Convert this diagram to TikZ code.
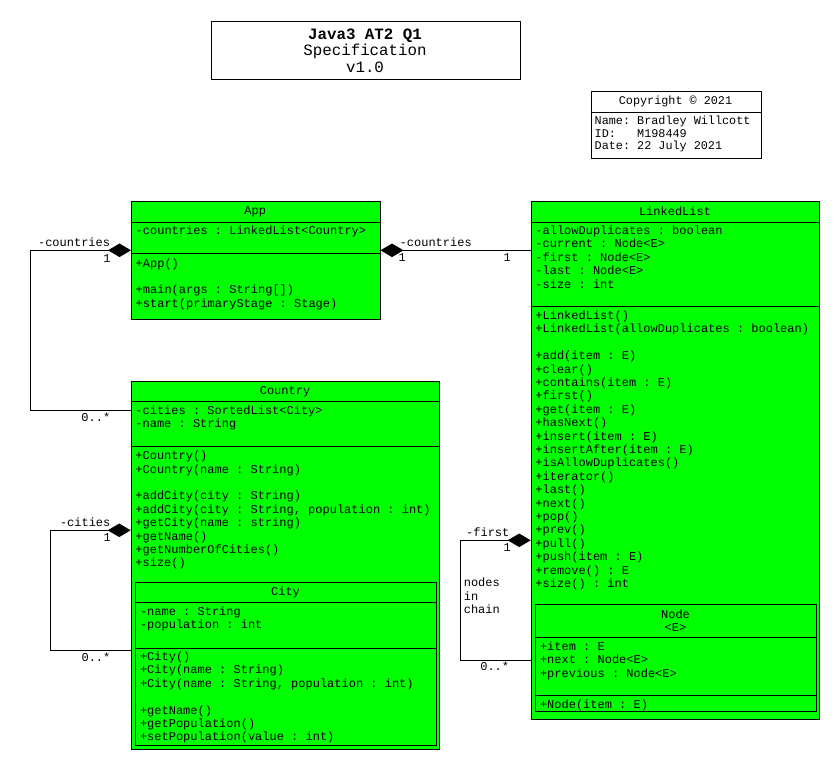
\documentclass[tikz,border=0pt]{standalone}
\usepackage{fontspec}
\setmonofont{Liberation Mono}
\newfontfamily\umlmono{Liberation Mono}
\newcommand\clsfont{\umlmono\fontsize{12}{13.4}\selectfont\frenchspacing}
\newcommand\cpyfont{\umlmono\fontsize{11.8}{12.9}\selectfont\frenchspacing}
\newcommand\ttlfont{\umlmono\fontsize{15.8}{16.5}\selectfont\frenchspacing}
\usetikzlibrary{arrows.meta}
\definecolor{umlgreen}{HTML}{00FF00}
\tikzset{
  classbox/.style={draw=black, line width=1pt, fill=umlgreen, inner sep=0pt, anchor=north west},
  plainbox/.style={draw=black, line width=1pt, fill=white, inner sep=0pt, anchor=north west},
  divline/.style={line width=1pt},
  comptxt/.style={anchor=north west, inner sep=0pt, font=\clsfont, align=left},
  headtxt/.style={inner sep=0pt, font=\clsfont, align=center},
  endlbl/.style={inner sep=0pt, font=\clsfont},
  conn/.style={line width=1pt},
  composite/.style={conn, {Diamond[length=23pt,width=13.5pt]}-},
}
\begin{document}
\begin{tikzpicture}[x=1pt,y=-1pt]
\useasboundingbox (0,0) rectangle (840,770);

% ---------- title ----------
\node[plainbox, minimum width=309pt, minimum height=58.3pt] (title) at (210.5,20.7) {};
\node[inner sep=0pt, font=\ttlfont, align=center] (titletxt) at (365,50.3)
  {\textbf{Java3 AT2 Q1}\\Specification\\v1.0};

% ---------- copyright ----------
\node[plainbox, minimum width=170pt, minimum height=67.6pt] (copy) at (590.5,90.7) {};
\draw[divline] (590.5,112.7) -- (760.5,112.7);
\node[inner sep=0pt, font=\cpyfont] (copyhead) at (675.5,101.7) {Copyright © 2021};
\node[anchor=north west, inner sep=0pt, font=\cpyfont, align=left] (copybody) at (594.5,114.9)
  {\strut Name: Bradley Willcott\\ID:~~~M198449\\Date: 22 July 2021};

% ---------- App ----------
\node[classbox, minimum width=248.5pt, minimum height=118pt] (app) at (131,201) {};
\draw[divline] (131,222) -- (379.5,222);
\draw[divline] (131,253.3) -- (379.5,253.3);
\node[headtxt] (apphead) at (255.2,211.5) {App};
\node[comptxt] (appattr) at (135.5,224.9) {\strut -countries : LinkedList<Country>};
\node[comptxt] (appmeth) at (135.5,257.6)
  {\strut +App()\\\strut\\+main(args : String[])\\+start(primaryStage : Stage)};

% ---------- LinkedList ----------
\node[classbox, minimum width=288.6pt, minimum height=517.5pt] (ll) at (530.7,201) {};
\draw[divline] (530.7,222) -- (819.3,222);
\draw[divline] (530.7,306.3) -- (819.3,306.3);
\node[headtxt] (llhead) at (675,211.5) {LinkedList};
\node[comptxt] (llattr) at (535.2,224.9)
  {\strut -allowDuplicates : boolean\\-current : Node<E>\\-first : Node<E>\\-last : Node<E>\\-size : int};
\node[comptxt] (llmeth) at (535.2,309.9)
  {\strut +LinkedList()\\+LinkedList(allowDuplicates : boolean)\\\strut\\+add(item : E)\\+clear()\\+contains(item : E)\\+first()\\+get(item : E)\\+hasNext()\\+insert(item : E)\\+insertAfter(item : E)\\+isAllowDuplicates()\\+iterator()\\+last()\\+next()\\+pop()\\+prev()\\+pull()\\+push(item : E)\\+remove() : E\\+size() : int};

% ---------- Node (inner) ----------
\node[classbox, minimum width=280.4pt, minimum height=107.6pt] (nodecls) at (535.3,603.7) {};
\draw[divline] (535.3,637.3) -- (815.7,637.3);
\draw[divline] (535.3,695.3) -- (815.7,695.3);
\node[headtxt] (nodehead) at (675.5,620.8) {Node\\<E>};
\node[comptxt] (nodeattr) at (539.8,640.9)
  {\strut +item : E\\+next : Node<E>\\+previous : Node<E>};
\node[comptxt] (nodemeth) at (539.8,698.9) {\strut +Node(item : E)};

% ---------- Country ----------
\node[classbox, minimum width=308.6pt, minimum height=368.3pt] (country) at (130.7,380.7) {};
\draw[divline] (130.7,401.7) -- (439.3,401.7);
\draw[divline] (130.7,446) -- (439.3,446);
\node[headtxt] (countryhead) at (285,391.5) {Country};
\node[comptxt] (countryattr) at (135.2,404.9)
  {\strut -cities : SortedList<City>\\-name : String};
\node[comptxt] (countrymeth) at (135.2,450.2)
  {\strut +Country()\\+Country(name : String)\\\strut\\+addCity(city : String)\\+addCity(city : String, population : int)\\+getCity(name : string)\\+getName()\\+getNumberOfCities()\\+size()};

% ---------- City (inner) ----------
\node[classbox, minimum width=300.4pt, minimum height=162.2pt] (city) at (135.3,582.3) {};
\draw[divline] (135.3,602.3) -- (435.7,602.3);
\draw[divline] (135.3,648.7) -- (435.7,648.7);
\node[headtxt] (cityhead) at (285.5,592.5) {City};
\node[comptxt] (cityattr) at (139.8,605.9)
  {\strut -name : String\\-population : int};
\node[comptxt] (citymeth) at (139.8,650.9)
  {\strut +City()\\+City(name : String)\\+City(name : String, population : int)\\\strut\\+getName()\\+getPopulation()\\+setPopulation(value : int)};

% ---------- connectors ----------
% App -> Country (left loop)
\draw[composite] ([yshift=-49.3pt]app.north west) -- ++(-100.7,0) |- ([yshift=-29.6pt]country.north west);
\node[endlbl, anchor=base east] (l1a) at (110.3,246.2) {-countries};
\node[endlbl, anchor=base east] (l1b) at (110.8,262) {1};
\node[endlbl, anchor=base east] (l1c) at (110.5,421.6) {0..*};

% App -> LinkedList
\draw[composite] ([yshift=-49.3pt]app.north east) -- ([yshift=-49.3pt]ll.north west);
\node[endlbl, anchor=base west] (l2a) at (399.5,246.2) {-countries};
\node[endlbl, anchor=base west] (l2b) at (398.3,261.8) {1};
\node[endlbl, anchor=base east] (l2c) at (511,261.8) {1};

% Country -> City (left loop)
\draw[composite] ([yshift=-149.6pt]country.north west) -- ++(-80.4,0) |- ([yshift=-269.6pt]country.north west);
\node[endlbl, anchor=base east] (l3a) at (110.6,526.2) {-cities};
\node[endlbl, anchor=base east] (l3b) at (111,541.6) {1};
\node[endlbl, anchor=base east] (l3c) at (110.6,661.2) {0..*};

% LinkedList -> Node (left loop)
\draw[composite] ([yshift=-339.3pt]ll.north west) -- ++(-70.4,0) |- ([yshift=-459.3pt]ll.north west);
\node[endlbl, anchor=base east] (l4a) at (509.6,536.2) {-first};
\node[endlbl, anchor=base east] (l4b) at (511,551.2) {1};
\node[endlbl, anchor=base east] (l4c) at (509.3,670.6) {0..*};
\node[comptxt] (chain) at (463.6,577.1) {\strut nodes\\in\\chain};
\end{tikzpicture}
\end{document}
